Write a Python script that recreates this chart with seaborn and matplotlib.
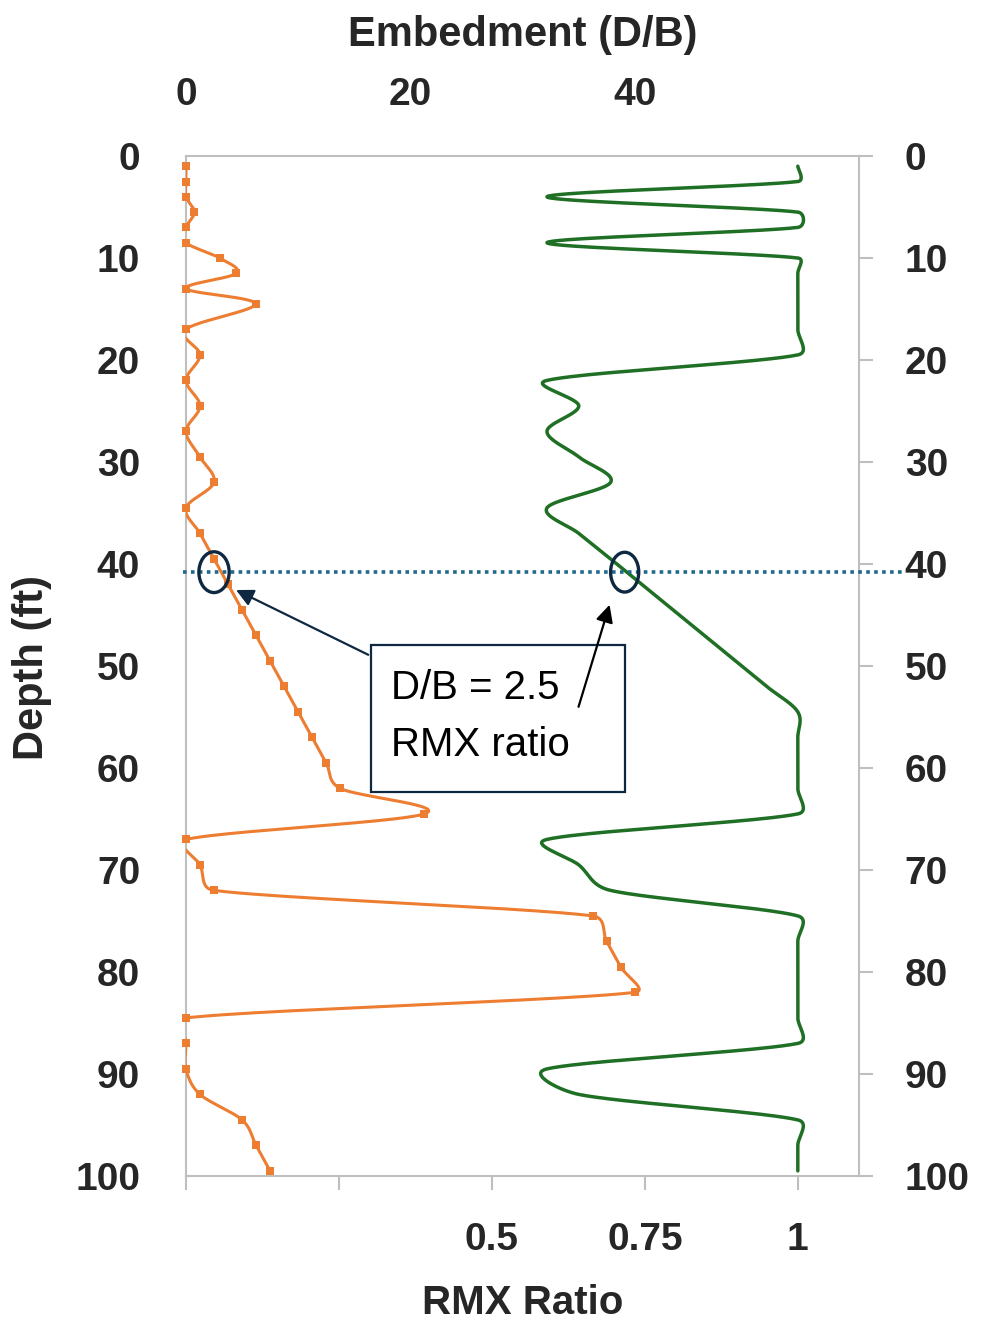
import numpy as np
import pandas as pd
import matplotlib
matplotlib.use("Agg")
import matplotlib.pyplot as plt
import seaborn as sns
from matplotlib.patches import Ellipse, Rectangle

# ---- data -------------------------------------------------------------
DEPTH_FT = [1, 2.5, 4, 5.5, 7, 8.5, 10, 11.5, 13, 14.5,
            17, 19.5, 22, 24.5, 27, 29.5, 32, 34.5, 37, 39.5,
            42, 44.5, 47, 49.5, 52, 54.5, 57, 59.5, 62, 64.5,
            67, 69.5, 72, 74.5, 77, 79.5, 82, 84.5, 87, 89.5,
            92, 94.5, 97, 99.5]

EMBEDMENT_DB = [0, 0, 0, 0.75, 0, 0, 3.0, 4.5, 0, 6.2,
                0, 1.25, 0, 1.25, 0, 1.25, 2.5, 0, 1.25, 2.5,
                3.75, 5.0, 6.25, 7.5, 8.75, 10.0, 11.25, 12.5, 13.75, 21.25,
                0, 1.25, 2.5, 36.25, 37.5, 38.75, 40.0, 0, 0, 0,
                1.25, 5.0, 6.25, 7.5]

RMX_RATIO = [1.0, 1.0, 0.59, 1.0, 1.0, 0.59, 1.0, 1.0, 1.0, 1.0,
             1.0, 1.0, 0.59, 0.642, 0.59, 0.642, 0.694, 0.59, 0.642, 0.694,
             0.745, 0.796, 0.847, 0.898, 0.949, 1.0, 1.0, 1.0, 1.0, 1.0,
             0.59, 0.642, 0.694, 1.0, 1.0, 1.0, 1.0, 1.0, 1.0, 0.59,
             0.642, 1.0, 1.0, 1.0]

DEPTH_TICKS = list(range(0, 101, 10))
RMX_TICKS = [0, 0.25, 0.5, 0.75, 1]
RMX_TICK_LABELS = ["", "", "0.5", "0.75", "1"]
DB_TICKS = [0, 20, 40]

# highlighted depth and the two values read there
MARK_DEPTH = 40.8
MARK_DB = 2.5
MARK_RMX = 0.717
NOTE_LINES = ["D/B = 2.5", "RMX ratio"]

ORANGE = "#ED7D31"
GREEN = "#1F6F25"
GRAY = "#BFBFBF"
NAVY = "#0E2841"
DOTS = "#1F6A8A"

FIG_W, FIG_H = 9.82, 13.25
AX_RECT = [0.1894, 0.11245, 0.68534, 0.76981]
RMX_LIM = (0, 1.1)
DB_LIM = (0, 60)
DEPTH_LIM = (100, 0)


def smooth(xs, ys, sx, sy, n=40, k=0.5):
    """Smoothed polyline through the points: cubic Bezier pieces whose
    control arms follow the neighbour chord (1/6) but are kept short on
    short segments.  Built in screen units (sx, sy = pixels per unit)."""
    p = np.column_stack([np.asarray(xs, float) * sx, np.asarray(ys, float) * sy])
    m = len(p)
    out = []
    for i in range(m - 1):
        p0 = p[i - 1] if i > 0 else p[i]
        p1, p2 = p[i], p[i + 1]
        p3 = p[i + 2] if i + 2 < m else p[i + 1]
        seg = np.linalg.norm(p2 - p1)
        t1 = (p2 - p0) / 6.0
        t2 = (p3 - p1) / 6.0
        for t in (t1, t2):
            ln = np.linalg.norm(t)
            if ln > k * seg and ln > 0:
                t *= k * seg / ln
        c1 = p1 + t1
        c2 = p2 - t2
        u = np.linspace(0, 1, n, endpoint=(i == m - 2))[:, None]
        out.append(((1 - u) ** 3) * p1 + 3 * ((1 - u) ** 2) * u * c1
                   + 3 * (1 - u) * u ** 2 * c2 + u ** 3 * p2)
    out = np.vstack(out)
    return pd.DataFrame({"x": out[:, 0] / sx, "y": out[:, 1] / sy})


sns.set_theme(style="white")
plt.rcParams["font.family"] = ["Liberation Sans", "DejaVu Sans"]
plt.rcParams["font.weight"] = "bold"

fig = plt.figure(figsize=(FIG_W, FIG_H), dpi=100)
ax = fig.add_axes(AX_RECT)
axt = ax.twiny()
axr = ax.twinx()

ax_w_px = AX_RECT[2] * FIG_W * 100
ax_h_px = AX_RECT[3] * FIG_H * 100
px_rmx = ax_w_px / (RMX_LIM[1] - RMX_LIM[0])
px_db = ax_w_px / (DB_LIM[1] - DB_LIM[0])
px_depth = ax_h_px / abs(DEPTH_LIM[0] - DEPTH_LIM[1])

# RMX ratio on the bottom axis
green_df = smooth(RMX_RATIO, DEPTH_FT, px_rmx, px_depth)
sns.lineplot(data=green_df, x="x", y="y", sort=False, estimator=None,
             color=GREEN, lw=2.5, ax=ax)

# Embedment on the top axis
orange_df = smooth(EMBEDMENT_DB, DEPTH_FT, px_db, px_depth)
sns.lineplot(data=orange_df, x="x", y="y", sort=False, estimator=None,
             color=ORANGE, lw=2.2, ax=axt)
sns.scatterplot(x=EMBEDMENT_DB, y=DEPTH_FT, marker="s", s=28, color=ORANGE,
                edgecolor=ORANGE, linewidth=0, ax=axt, clip_on=False, zorder=3)

ax.set_xlim(*RMX_LIM)
axt.set_xlim(*DB_LIM)
ax.set_ylim(*DEPTH_LIM)
axr.set_ylim(*DEPTH_LIM)

# spines
for a in (axt, axr):
    for s in a.spines.values():
        s.set_visible(False)
for s in ax.spines.values():
    s.set_visible(True)
    s.set_color(GRAY)
    s.set_linewidth(1.5)

# ticks
ax.set_xticks(RMX_TICKS)
ax.set_xticklabels(RMX_TICK_LABELS)
ax.tick_params(axis="x", bottom=True, top=False, length=10, width=1.5,
               color=GRAY, pad=23, labelsize=28)
ax.set_yticks(DEPTH_TICKS)
ax.tick_params(axis="y", left=True, right=False, length=0, pad=33, labelsize=28)

axr.set_yticks(DEPTH_TICKS)
axr.tick_params(axis="y", right=True, left=False, length=10, width=1.5,
                color=GRAY, pad=23, labelsize=28)

axt.set_xticks(DB_TICKS)
axt.tick_params(axis="x", top=True, bottom=False, length=0, pad=31, labelsize=28)

for a in (ax, axt, axr):
    for lab in a.get_xticklabels() + a.get_yticklabels():
        lab.set_fontweight("bold")

# axis titles
axt.set_xlabel("Embedment (D/B)", fontsize=30, fontweight="bold")
axt.xaxis.set_label_coords(0.5, 1.119)
axt.xaxis.label.set_va("center")
ax.set_xlabel("RMX Ratio", fontsize=29, fontweight="bold")
ax.xaxis.set_label_coords(0.5, -0.1245)
ax.xaxis.label.set_va("center")
ax.set_ylabel("Depth (ft)", fontsize=30, fontweight="bold")
ax.yaxis.set_label_coords(-0.2288, 0.499)
ax.yaxis.label.set_va("center")
axr.set_ylabel("")
axt.set_ylabel("")

# dotted marker line at the selected depth
axt.axhline(MARK_DEPTH, xmin=-0.004, xmax=1.066, color=DOTS, lw=2.6,
            linestyle=(0, (1, 1.2)), clip_on=False, zorder=4)

# circles around the two readings
axt.add_patch(Ellipse((MARK_DB, MARK_DEPTH), 2.7, 4.0, transform=axt.transData,
                      fill=False, edgecolor=NAVY, lw=2.4, zorder=5))
axt.add_patch(Ellipse((MARK_RMX, MARK_DEPTH), 0.046, 3.9, transform=ax.transData,
                      fill=False, edgecolor=NAVY, lw=2.4, zorder=5))

# callout box
axt.add_patch(Rectangle((0.3028, 47.94), 0.4141, 14.41, transform=ax.transData,
                        facecolor="white", edgecolor=NAVY, lw=1.6, zorder=5))
axt.text(0.3355, 52.2, NOTE_LINES[0], transform=ax.transData, fontsize=29,
         fontweight="normal", ha="left", va="center", color="black", zorder=6)
axt.text(0.3355, 57.7, NOTE_LINES[1], transform=ax.transData, fontsize=29,
         fontweight="normal", ha="left", va="center", color="black", zorder=6)

axt.annotate("", xy=(0.0818, 42.55), xycoords=ax.transData,
             xytext=(0.2979, 48.9), textcoords=ax.transData,
             arrowprops=dict(arrowstyle="-|>", color=NAVY, lw=1.6,
                             mutation_scale=26, shrinkA=0, shrinkB=0),
             zorder=6)
axt.annotate("", xy=(0.6923, 44.0), xycoords=ax.transData,
             xytext=(0.6416, 54.0), textcoords=ax.transData,
             arrowprops=dict(arrowstyle="-|>", color="black", lw=1.6,
                             mutation_scale=26, shrinkA=0, shrinkB=0),
             zorder=6)

fig.savefig("out.png", dpi=100)
